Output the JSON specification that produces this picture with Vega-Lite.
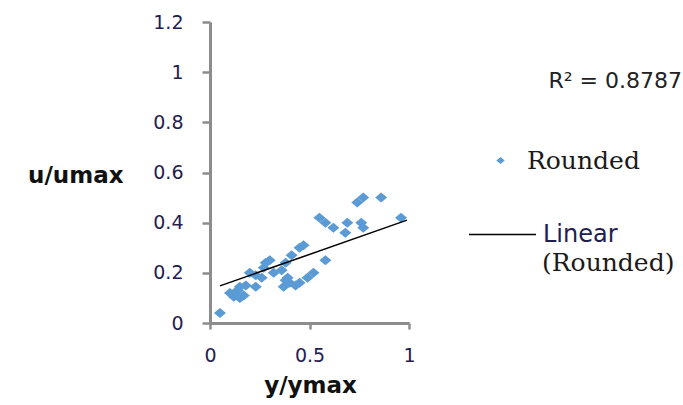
{
  "$schema": "https://vega.github.io/schema/vega-lite/v6.json",
  "autosize": {"type": "none"},
  "padding": {"left": 210, "top": 22, "right": 274, "bottom": 82},
  "width": 199,
  "height": 301,
  "background": "white",
  "config": {"view": {"stroke": null}},
  "title": {
    "text": "R² = 0.8787",
    "orient": "top",
    "anchor": "end",
    "frame": "group",
    "offset": 0,
    "dx": 273,
    "dy": 97,
    "baseline": "alphabetic",
    "font": "DejaVu Sans",
    "fontSize": 22,
    "fontWeight": "normal",
    "color": "#222222"
  },
  "datasets": {
    "points": [
      {"x": 0.05, "y": 0.04}, {"x": 0.10, "y": 0.12}, {"x": 0.12, "y": 0.105},
      {"x": 0.13, "y": 0.125}, {"x": 0.14, "y": 0.13}, {"x": 0.15, "y": 0.10},
      {"x": 0.15, "y": 0.145}, {"x": 0.17, "y": 0.11}, {"x": 0.18, "y": 0.15},
      {"x": 0.23, "y": 0.145}, {"x": 0.20, "y": 0.20}, {"x": 0.23, "y": 0.19},
      {"x": 0.26, "y": 0.18}, {"x": 0.27, "y": 0.22}, {"x": 0.28, "y": 0.24},
      {"x": 0.30, "y": 0.25}, {"x": 0.32, "y": 0.20}, {"x": 0.36, "y": 0.21},
      {"x": 0.38, "y": 0.24}, {"x": 0.41, "y": 0.27}, {"x": 0.39, "y": 0.18},
      {"x": 0.38, "y": 0.17}, {"x": 0.37, "y": 0.145}, {"x": 0.40, "y": 0.16},
      {"x": 0.43, "y": 0.15}, {"x": 0.45, "y": 0.16}, {"x": 0.49, "y": 0.18},
      {"x": 0.52, "y": 0.20}, {"x": 0.45, "y": 0.30}, {"x": 0.47, "y": 0.31},
      {"x": 0.58, "y": 0.25}, {"x": 0.55, "y": 0.42}, {"x": 0.58, "y": 0.40},
      {"x": 0.62, "y": 0.38}, {"x": 0.68, "y": 0.36}, {"x": 0.69, "y": 0.40},
      {"x": 0.76, "y": 0.40}, {"x": 0.77, "y": 0.38}, {"x": 0.74, "y": 0.48},
      {"x": 0.77, "y": 0.50}, {"x": 0.86, "y": 0.50}, {"x": 0.96, "y": 0.42}
    ],
    "trend": [
      {"x": 0.05, "y": 0.148, "trend": "Linear", "sub": "(Rounded)"},
      {"x": 0.99, "y": 0.41, "trend": "Linear", "sub": "(Rounded)"}
    ]
  },
  "encoding": {
    "x": {
      "field": "x",
      "type": "quantitative",
      "scale": {"domain": [0, 1]},
      "axis": {
        "values": [0, 0.5, 1],
        "format": "~g",
        "grid": false,
        "title": "y/ymax",
        "titleFont": "DejaVu Sans",
        "titleFontSize": 23,
        "titleFontWeight": "bold",
        "titleColor": "#111111",
        "titleAnchor": "middle",
        "titleBaseline": "middle",
        "titleX": 100,
        "titleY": 62,
        "labelFont": "DejaVu Sans",
        "labelFontSize": 19,
        "labelColor": "#1f2050",
        "labelPadding": 17,
        "labelFlush": false,
        "domainColor": "#8c8c8c",
        "domainWidth": 3,
        "tickColor": "#8c8c8c",
        "tickWidth": 2.5,
        "tickSize": 6
      }
    },
    "y": {
      "field": "y",
      "type": "quantitative",
      "scale": {"domain": [0, 1.2]},
      "axis": {
        "values": [0, 0.2, 0.4, 0.6, 0.8, 1, 1.2],
        "format": "~g",
        "grid": false,
        "title": "u/umax",
        "titleAngle": 0,
        "titleFont": "DejaVu Sans",
        "titleFontSize": 23,
        "titleFontWeight": "bold",
        "titleColor": "#111111",
        "titleAlign": "right",
        "titleBaseline": "middle",
        "titleX": -87,
        "titleY": 153,
        "labelFont": "DejaVu Sans",
        "labelFontSize": 19,
        "labelColor": "#1f2050",
        "labelPadding": 19,
        "labelFlush": false,
        "domainColor": "#8c8c8c",
        "domainWidth": 3,
        "tickColor": "#8c8c8c",
        "tickWidth": 2.5,
        "tickSize": 8
      }
    }
  },
  "layer": [
    {
      "data": {"name": "points"},
      "transform": [{"calculate": "'Rounded'", "as": "marker"}],
      "mark": {"type": "point", "filled": true, "size": 100, "color": "#5B9BD5", "opacity": 1},
      "encoding": {
        "shape": {
          "field": "marker",
          "type": "nominal",
          "scale": {"range": ["M-1.2,0L0,-1L1.2,0L0,1Z"]},
          "legend": {
            "orient": "none",
            "legendX": 278,
            "legendY": 126,
            "title": null,
            "padding": 0,
            "symbolSize": 49,
            "symbolFillColor": "#5B9BD5",
            "symbolStrokeWidth": 0,
            "labelOffset": 14,
            "labelFont": "DejaVu Serif",
            "labelFontSize": 25,
            "labelColor": "#1a1a1a",
            "labelLimit": 300
          }
        }
      }
    },
    {
      "data": {"name": "trend"},
      "mark": {"type": "line", "strokeWidth": 1.5},
      "encoding": {
        "color": {
          "field": "trend",
          "type": "nominal",
          "scale": {"range": ["#000000"]},
          "legend": {
            "orient": "none",
            "legendX": 258,
            "legendY": 178,
            "title": null,
            "padding": 0,
            "symbolType": "stroke",
            "symbolSize": 4489,
            "symbolStrokeWidth": 1.5,
            "symbolStrokeColor": "#000000",
            "labelOffset": 6,
            "labelFont": "DejaVu Sans",
            "labelFontSize": 24,
            "labelColor": "#1f2050",
            "labelLimit": 300
          }
        },
        "opacity": {
          "field": "sub",
          "type": "ordinal",
          "scale": {"range": [1, 1]},
          "legend": {
            "orient": "none",
            "legendX": 307,
            "legendY": 228,
            "title": null,
            "padding": 0,
            "symbolSize": 0,
            "symbolStrokeWidth": 0,
            "symbolOpacity": 0,
            "labelOffset": 0,
            "labelFont": "DejaVu Serif",
            "labelFontSize": 25,
            "labelColor": "#1a1a1a",
            "labelLimit": 300
          }
        }
      }
    }
  ]
}
